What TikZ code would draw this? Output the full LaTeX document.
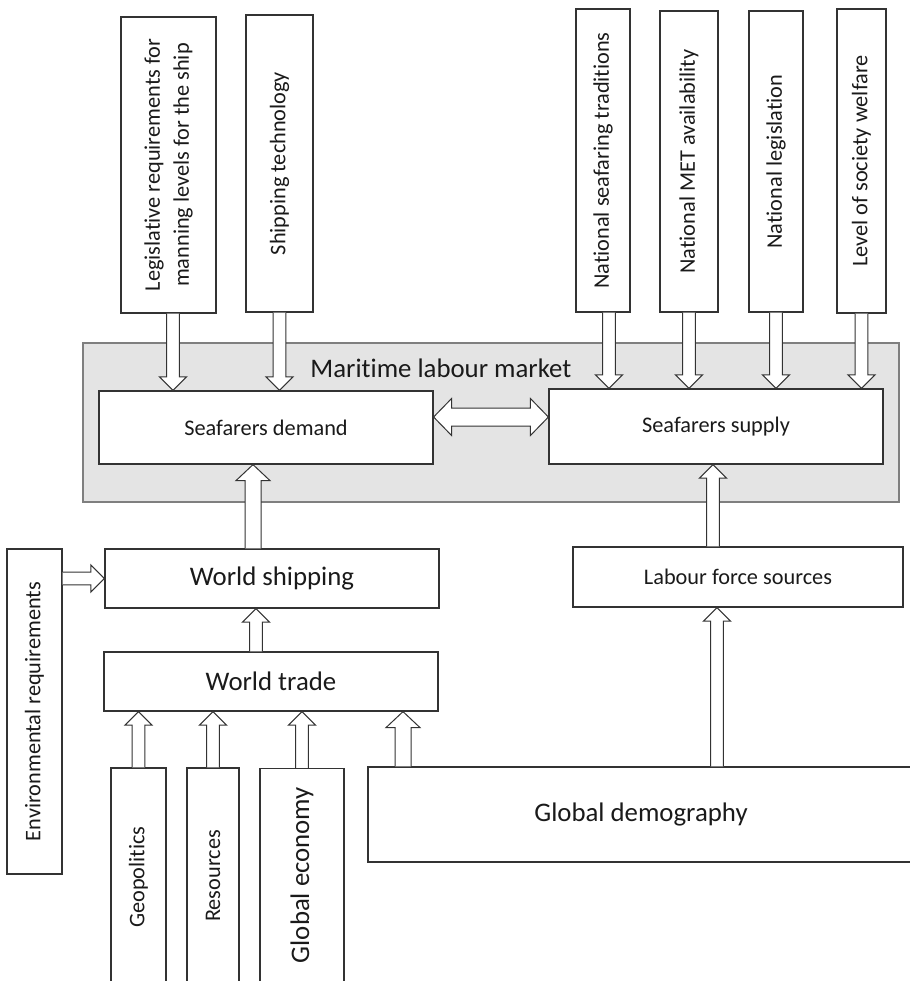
\documentclass[tikz,border=0pt]{standalone}
\usepackage{fontspec}
\setmainfont{Carlito}[Ligatures=NoCommon]
\usetikzlibrary{calc}
\definecolor{marketgray}{HTML}{E4E4E4}
\definecolor{bordergray}{HTML}{7F7F7F}
\definecolor{textgray}{HTML}{1A1A1A}

\newcommand{\arwshaft}{3.2pt}
\newcommand{\arwhead}{6.8pt}
\newcommand{\arwlen}{6.8pt}

% hollow block arrow from #1 to the tip #2
\newcommand{\blockarrow}[2]{
  \draw[blockline]
    ($(#1)!\arwshaft!90:(#2)$) -- ($(#2)!\arwlen!(#1)!\arwshaft!90:(#2)$)
    -- ($(#2)!\arwlen!(#1)!\arwhead!90:(#2)$) -- (#2)
    -- ($(#2)!\arwlen!(#1)!\arwhead!-90:(#2)$) -- ($(#2)!\arwlen!(#1)!\arwshaft!-90:(#2)$)
    -- ($(#1)!\arwshaft!-90:(#2)$);
}
% same, with a head at both ends
\newcommand{\blockboth}[2]{
  \draw[blockline]
    (#1) -- ($(#1)!\arwlen!(#2)!\arwhead!90:(#2)$) -- ($(#1)!\arwlen!(#2)!\arwshaft!90:(#2)$)
    -- ($(#2)!\arwlen!(#1)!\arwshaft!-90:(#1)$) -- ($(#2)!\arwlen!(#1)!\arwhead!-90:(#1)$)
    -- (#2) -- ($(#2)!\arwlen!(#1)!\arwhead!90:(#1)$) -- ($(#2)!\arwlen!(#1)!\arwshaft!90:(#1)$)
    -- ($(#1)!\arwlen!(#2)!\arwshaft!-90:(#2)$) -- ($(#1)!\arwlen!(#2)!\arwhead!-90:(#2)$) -- cycle;
}

\tikzset{
	boxnode/.style={
			shape=rectangle,
			draw=black!80,
			line width=0.6pt,
			fill=white,
			inner sep=0pt
		},
	marketnode/.style={
			boxnode,
			draw=bordergray,
			fill=marketgray,
			line width=1pt
		},
	blockline/.style={
			draw=black!80,
			line width=0.5pt,
			fill=white
		},
	textnode/.style={
			text=textgray,
			font=\fontsize{11.15}{14.5}\selectfont,
			align=center,
			inner sep=0pt
		},
	bigtext/.style={
			textnode,
			font=\fontsize{13.4}{16}\selectfont
		}
}

\begin{document}
\begin{tikzpicture}[x=0.5pt, y=-0.5pt]

  \clip (0,0) rectangle (910,981);

  \node[marketnode, minimum width=408pt, minimum height=79.5pt] (market) at (491,422.5) {};
  \node[bigtext, anchor=base west] (marketlabel) at (310,377) {Maritime labour market};

  \node[boxnode, minimum width=167pt, minimum height=36.5pt] (demand) at (266,427.5) {};
  \node[boxnode, minimum width=167pt, minimum height=37.5pt] (supply) at (716,426.5) {};
  \node[textnode] at (demand) {Seafarers demand};
  \node[textnode] at (supply) {Seafarers supply};

  \node[boxnode, minimum width=47.5pt, minimum height=148pt] (leg) at (168.5,165) {};
  \node[boxnode, minimum width=33.5pt, minimum height=148.5pt] (tech) at (279.5,163.5) {};
  \node[boxnode, minimum width=27pt, minimum height=151.5pt] (tradition) at (603,160.5) {};
  \node[boxnode, minimum width=29pt, minimum height=150.5pt] (met) at (689,161.5) {};
  \node[boxnode, minimum width=27pt, minimum height=150.5pt] (natleg) at (776,161.5) {};
  \node[boxnode, minimum width=24.5pt, minimum height=152pt] (welfare) at (861.5,161) {};

  \node[textnode, rotate=90] at (leg) {Legislative requirements for\\manning levels for the ship};
  \node[textnode, rotate=90] at (tech) {Shipping technology};
  \node[textnode, rotate=90] at (tradition) {National seafaring traditions};
  \node[textnode, rotate=90] at (met) {National MET availability};
  \node[textnode, rotate=90] at (natleg) {National legislation};
  \node[textnode, rotate=90] at (welfare) {Level of society welfare};

  \node[boxnode, minimum width=167pt, minimum height=29.5pt] (shipping) at (272,578.5) {};
  \node[boxnode, minimum width=167pt, minimum height=29.5pt] (trade) at (271,681.5) {};
  \node[boxnode, minimum width=165pt, minimum height=30pt] (labour) at (738,577) {};
  \node[boxnode, minimum width=27.5pt, minimum height=162.5pt] (env) at (34.5,711.5) {};
  \node[bigtext] at (shipping) {World shipping};
  \node[bigtext] at (trade) {World trade};
  \node[textnode] at (labour) {Labour force sources};
  \node[textnode, rotate=90] at (env) {Environmental requirements};

  \node[boxnode, minimum width=27.5pt, minimum height=116pt] (geo) at (138.5,884) {};
  \node[boxnode, minimum width=26pt, minimum height=116pt] (res) at (213,884) {};
  \node[boxnode, minimum width=42pt, minimum height=116pt] (eco) at (302,884.5) {};
  \node[boxnode, minimum width=273pt, minimum height=47.5pt] (demog) at (641,814.5) {};
  \node[textnode, rotate=90] at (138.5,877) {Geopolitics};
  \node[textnode, rotate=90] at (213,876) {Resources};
  \node[bigtext, rotate=90] at (302,875) {Global economy};
  \node[bigtext] at (demog) {Global demography};

  \coordinate (legout) at ([xshift=2.25pt]leg.south);
  \coordinate (tradout) at ([xshift=3pt]tradition.south);
  \coordinate (link) at ([yshift=5.25pt]demand.east);
  \coordinate (shipout) at ([xshift=-9.5pt]shipping.north);
  \coordinate (tradeout) at ([xshift=-7.5pt]trade.north);
  \coordinate (labourout) at ([xshift=-12.5pt]labour.north);
  \coordinate (demogleft) at ([xshift=-119pt]demog.north);
  \coordinate (demogright) at ([xshift=38pt]demog.north);

  \blockarrow{legout}{legout |- demand.north}
  \blockarrow{tech.south}{tech.south |- demand.north}
  \blockarrow{tradout}{tradout |- supply.north}
  \blockarrow{met.south}{met.south |- supply.north}
  \blockarrow{natleg.south}{natleg.south |- supply.north}
  \blockarrow{welfare.south}{welfare.south |- supply.north}

  \blockarrow{tradeout}{tradeout |- shipping.south}
  \blockarrow{env.east |- shipping.west}{shipping.west}
  \blockarrow{labourout}{labourout |- supply.south}
  \blockarrow{demogright}{demogright |- labour.south}
  \blockarrow{geo.north}{geo.north |- trade.south}
  \blockarrow{res.north}{res.north |- trade.south}
  \blockarrow{eco.north}{eco.north |- trade.south}

  {
    \renewcommand{\arwshaft}{4pt}
    \renewcommand{\arwhead}{8.5pt}
    \renewcommand{\arwlen}{8pt}
    \blockarrow{shipout}{shipout |- demand.south}
    \blockarrow{demogleft}{demogleft |- trade.south}
  }
  {
    \renewcommand{\arwshaft}{4.5pt}
    \renewcommand{\arwhead}{9.25pt}
    \renewcommand{\arwlen}{9pt}
    \blockboth{link}{supply.west |- link}
  }

\end{tikzpicture}
\end{document}
